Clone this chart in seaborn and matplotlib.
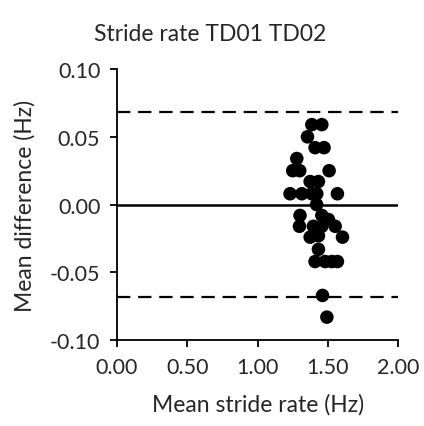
import matplotlib
matplotlib.use("Agg")
import matplotlib.pyplot as plt
import seaborn as sns
import pandas as pd

mean_rate = [1.386, 1.457, 1.355, 1.409, 1.473, 1.279, 1.250, 1.300, 1.509,
             1.374, 1.433, 1.231, 1.315, 1.386, 1.421, 1.568, 1.420, 1.302,
             1.457, 1.504, 1.298, 1.397, 1.457, 1.552, 1.374, 1.433, 1.604,
             1.433, 1.409, 1.480, 1.528, 1.568, 1.462, 1.493]
mean_diff = [0.059, 0.059, 0.050, 0.042, 0.042, 0.034, 0.025, 0.025, 0.025,
             0.017, 0.017, 0.008, 0.008, 0.008, 0.008, 0.008, 0.000, -0.008,
             -0.008, -0.011, -0.016, -0.016, -0.016, -0.016, -0.024, -0.023, -0.024,
             -0.033, -0.042, -0.042, -0.042, -0.042, -0.067, -0.083]
upper_loa = 0.068
lower_loa = -0.068
x_ticks = [0.0, 0.5, 1.0, 1.5, 2.0]
y_ticks = [-0.10, -0.05, 0.0, 0.05, 0.10]

df = pd.DataFrame({"rate": mean_rate, "diff": mean_diff})

sns.set_style("white")
plt.rcParams['font.family'] = ['Lato', 'DejaVu Sans']

fig = plt.figure(figsize=(4.24, 4.27), dpi=100)
ax = fig.add_axes([0.276, 0.201, 0.663, 0.635])

ax.axhline(0, color="black", lw=1.8, zorder=1)
ax.axhline(upper_loa, color="black", lw=1.6, ls=(0, (6, 3.5)), zorder=1)
ax.axhline(lower_loa, color="black", lw=1.6, ls=(0, (6, 3.5)), zorder=1)

sns.scatterplot(data=df, x="rate", y="diff", ax=ax, color="black", s=95,
                edgecolor="none", zorder=3)

ax.set_xlim(0, 2.0)
ax.set_ylim(-0.10, 0.10)
ax.set_xticks(x_ticks)
ax.set_yticks(y_ticks)
ax.set_xticklabels([f"{v:.2f}" for v in x_ticks])
ax.set_yticklabels([f"{v:.2f}" for v in y_ticks])
for s in ["top", "right"]:
    ax.spines[s].set_visible(False)
for s in ["left", "bottom"]:
    ax.spines[s].set_color("black")
    ax.spines[s].set_linewidth(1.3)
ax.tick_params(axis="both", direction="out", length=5, width=1.3, color="black",
               labelsize=15.5, pad=7, bottom=True, left=True)

ax.set_xlabel("Mean stride rate (Hz)", fontsize=16.5, labelpad=12)
ax.set_ylabel("Mean difference (Hz)", fontsize=16.5, labelpad=10)
fig.text(0.495, 0.92, "Stride rate TD01 TD02", fontsize=16.5, ha="center", va="center")

fig.savefig("out.png", dpi=100)
